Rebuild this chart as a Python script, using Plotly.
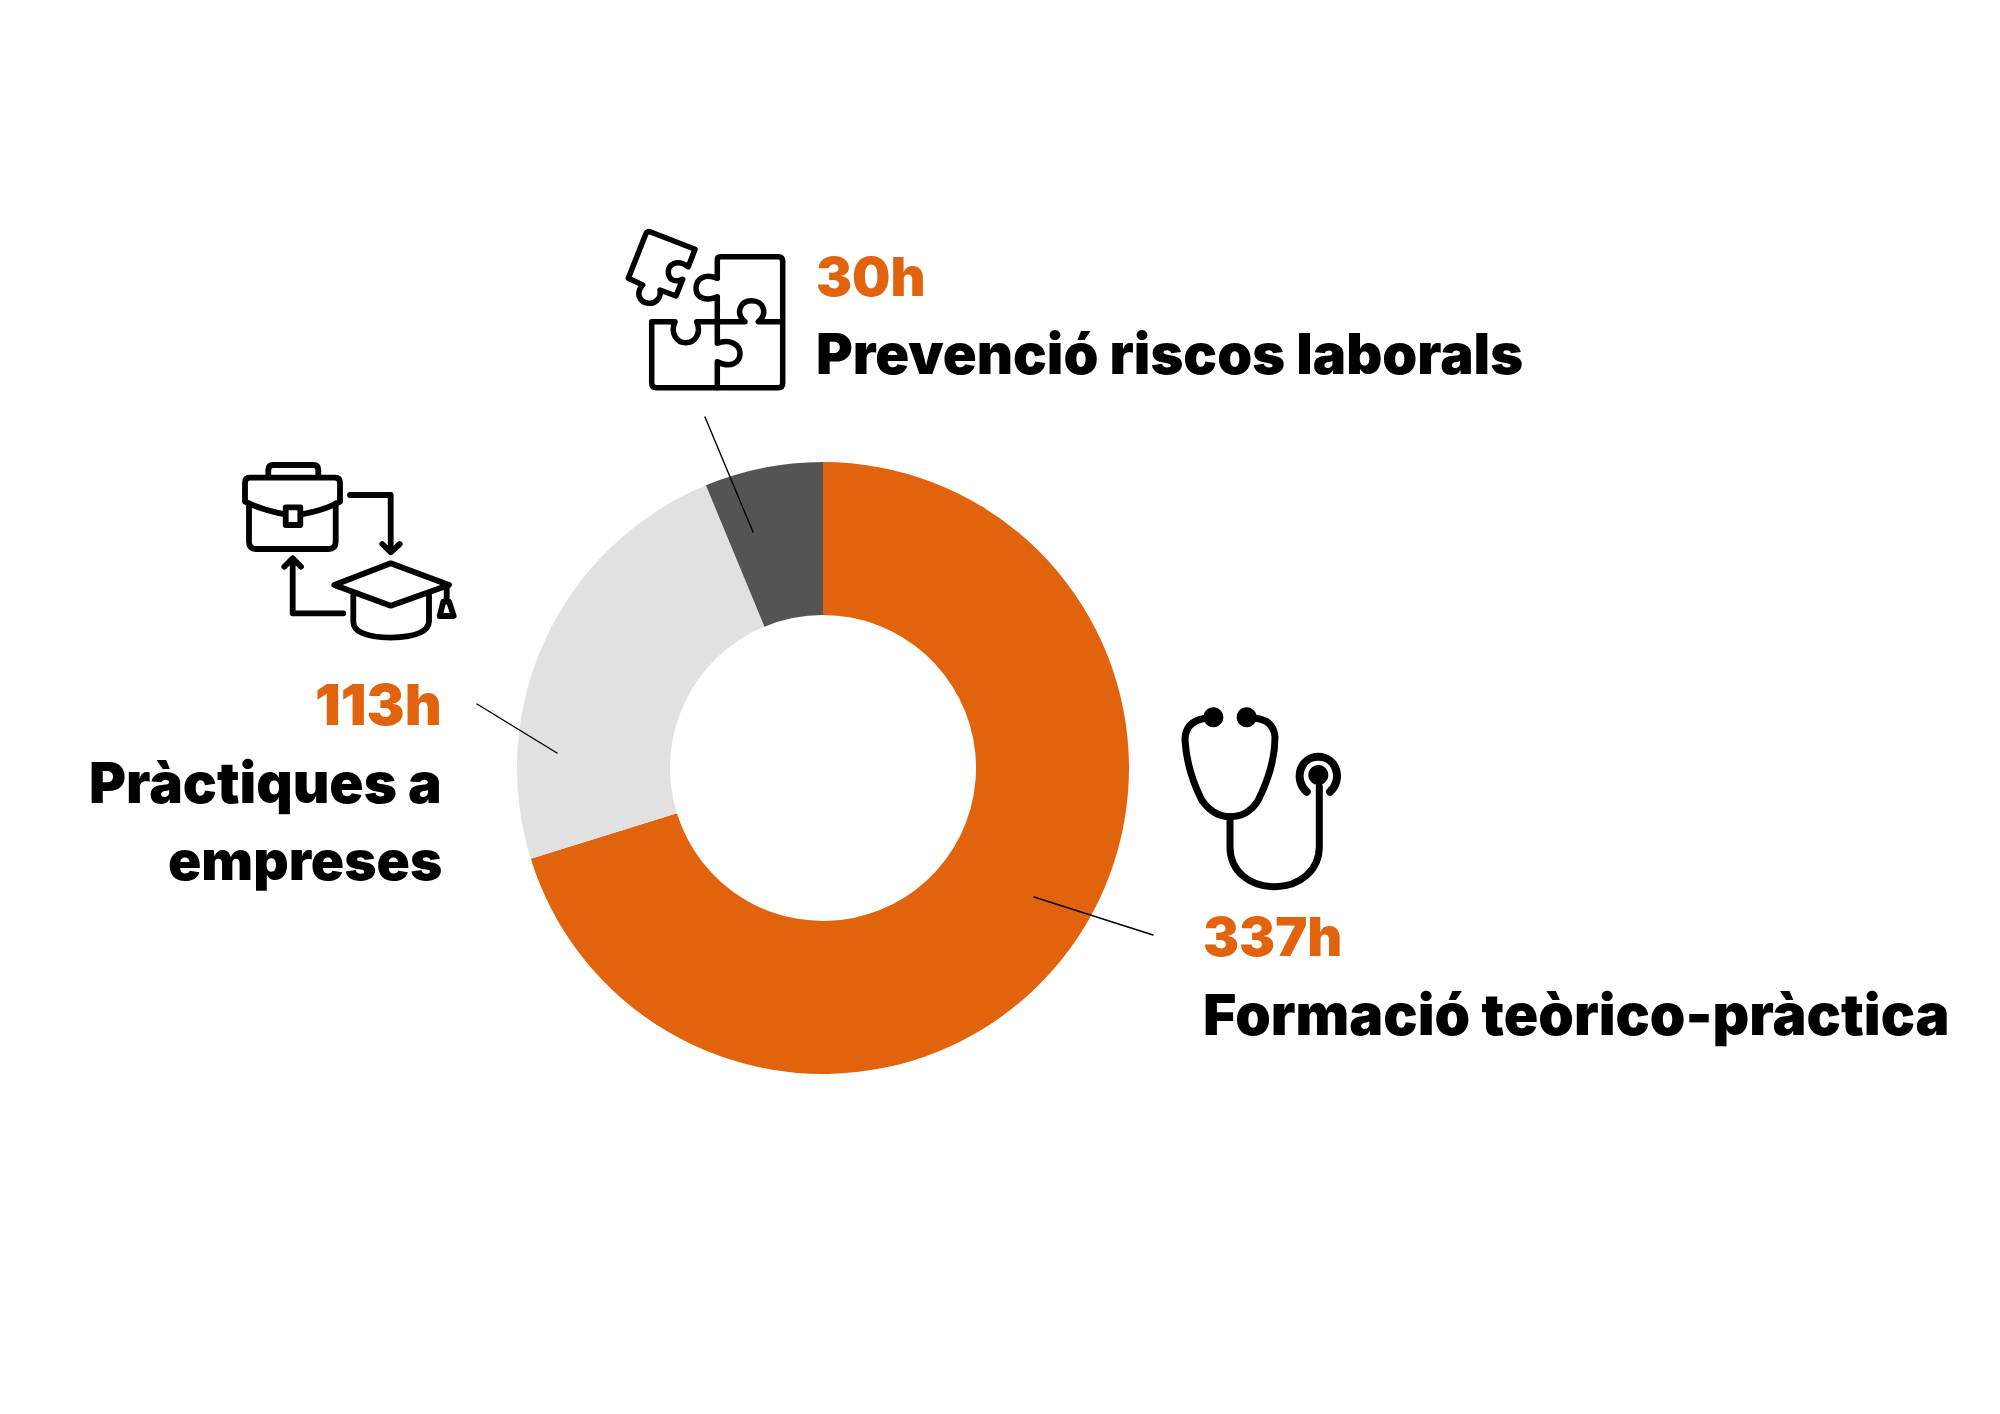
import re
import plotly.graph_objects as go

categories = ["Formació teòrico-pràctica", "Pràctiques a empreses", "Prevenció riscos laborals"]
hours = [337, 113, 30]
colors = ["#E1630E", "#E1E1E1", "#545454"]

FONT = "Inter"
ORANGE = "#E1630E"


def path(d, ox, oy):
    # icon paths are written in 3x crop coordinates
    res = []
    i = 0
    for tok in re.findall(r"[MLCQZ]|-?\d+\.?\d*", d):
        if tok in "MLCQZ":
            res.append(tok)
        else:
            val = float(tok) / 3 + (ox if i % 2 == 0 else oy)
            res.append(f"{val:.1f}")
            i += 1
    return " ".join(res)


def circle(cx, cy, r):
    k = r * 0.5523
    return (f"M {cx-r} {cy} C {cx-r} {cy-k} {cx-k} {cy-r} {cx} {cy-r} "
            f"C {cx+k} {cy-r} {cx+r} {cy-k} {cx+r} {cy} "
            f"C {cx+r} {cy+k} {cx+k} {cy+r} {cx} {cy+r} "
            f"C {cx-k} {cy+r} {cx-r} {cy+k} {cx-r} {cy} Z")


puzzle = [
    "M 150 65 L 285 118 L 265 170 C 230 145 205 165 205 185 C 205 210 225 218 248 208 L 228 258 L 180 240 C 185 265 165 282 145 280 C 120 278 105 250 128 225 L 85 205 L 135 78 Q 140 62 150 65 Z",
    "M 352 205 L 352 150 Q 352 140 362 140 L 535 140 Q 548 140 548 155 L 548 520 Q 548 533 535 533 L 170 533 Q 155 533 155 520 L 155 335 L 225 335 C 210 370 230 398 257 398 C 285 398 305 370 290 335 L 435 335 C 405 310 420 272 455 272 C 490 272 505 310 475 335 L 548 335",
    "M 352 205 C 315 190 288 205 288 235 C 288 265 320 275 352 260 L 352 400 C 390 385 420 405 420 430 C 420 460 390 475 352 455 L 352 533",
]
grad = [
    "M 130 95 L 130 75 Q 130 60 145 60 L 265 60 Q 280 60 280 75 L 280 95",
    "M 230 208 Q 300 195 345 170 L 345 113 Q 345 98 330 98 L 75 98 Q 60 98 60 113 L 60 170 Q 110 195 180 208",
    "M 72 175 L 72 290 Q 72 312 95 312 L 310 312 Q 332 312 332 290 L 332 175",
    "M 182 187 L 226 187 L 226 240 L 182 240 Z",
    "M 375 150 L 497 150 L 497 318 M 472 297 L 497 322 L 524 297",
    "M 355 505 L 203 505 L 203 345 M 178 365 L 203 340 L 228 365",
    "M 497 355 L 672 420 L 497 482 L 328 420 Z",
    "M 385 450 L 385 530 Q 385 575 497 578 Q 610 575 612 530 L 612 450",
    "M 665 420 L 665 465 M 655 470 L 672 470 L 686 513 L 644 513 Z",
]
steth = [
    "M 135 85 Q 75 95 75 150 Q 80 240 125 330 Q 160 380 210 380 Q 265 380 295 330 Q 345 230 345 140 Q 340 90 285 85",
    "M 210 380 L 210 470 C 210 545 270 590 345 590 C 420 590 478 540 478 470 L 478 290",
    "M 440 305 C 400 270 420 200 475 200 C 530 200 550 270 510 305",
]
steth_dots = [(160, 82, 30), (260, 82, 30), (475, 255, 30)]

leaders = [((705, 417), (753, 532)), ((477, 704), (557, 753)), ((1034, 897), (1153, 935))]

fig = go.Figure(go.Pie(
    labels=categories, values=hours, sort=False, direction="clockwise", rotation=0,
    hole=0.5, marker=dict(colors=colors, line=dict(width=0)),
    textinfo="none", hoverinfo="label+value", showlegend=False,
    domain=dict(x=[517 / 2000, 1129 / 2000], y=[1 - 1074 / 1414, 1 - 462 / 1414]),
))

shapes = []
for d in puzzle:
    shapes.append(dict(type="path", path=path(d, 600, 210), line=dict(color="black", width=5.5)))
for d in grad:
    shapes.append(dict(type="path", path=path(d, 225, 445), line=dict(color="black", width=5.8)))
for i, d in enumerate(steth):
    shapes.append(dict(type="path", path=path(d, 1160, 690), line=dict(color="black", width=8 if i == 2 else 7)))
for cx, cy, r in steth_dots:
    shapes.append(dict(type="path", path=circle(1160 + cx / 3, 690 + cy / 3, r / 3), fillcolor="black", line=dict(width=0)))
for (x0, y0), (x1, y1) in leaders:
    shapes.append(dict(type="line", x0=x0, y0=y0, x1=x1, y1=y1, line=dict(color="black", width=1.4)))
for s in shapes:
    s.update(xref="x", yref="y", layer="above")

texts = [
    (814, 276, "30h", ORANGE, "left", 54),
    (814, 354, "Prevenció riscos laborals", "black", "left", 56),
    (444, 704, "113h", ORANGE, "right", 57),
    (444, 782, "Pràctiques a", "black", "right", 56.5),
    (444, 860, "empreses", "black", "right", 55),
    (1201, 936, "337h", ORANGE, "left", 54),
    (1201, 1014, "Formació teòrico-pràctica", "black", "left", 57),
]
annotations = [
    dict(x=x, y=y, text=t, xref="x", yref="y", showarrow=False, xanchor=a, yanchor="middle",
         font=dict(family=FONT, size=s, color=c, weight=900))
    for x, y, t, c, a, s in texts
]

fig.update_layout(
    width=2000, height=1414, margin=dict(l=0, r=0, t=0, b=0),
    paper_bgcolor="white", plot_bgcolor="white",
    xaxis=dict(range=[0, 2000], visible=False, fixedrange=True),
    yaxis=dict(range=[1414, 0], visible=False, fixedrange=True),
    shapes=shapes, annotations=annotations,
)

css = ".shapelayer path{stroke-linejoin:round;stroke-linecap:round}"
fig.write_html(
    "out.html",
    config={"displayModeBar": False},
    post_script=f"document.body.style.margin='0';var st=document.createElement('style');st.textContent='{css}';document.head.appendChild(st);",
)
